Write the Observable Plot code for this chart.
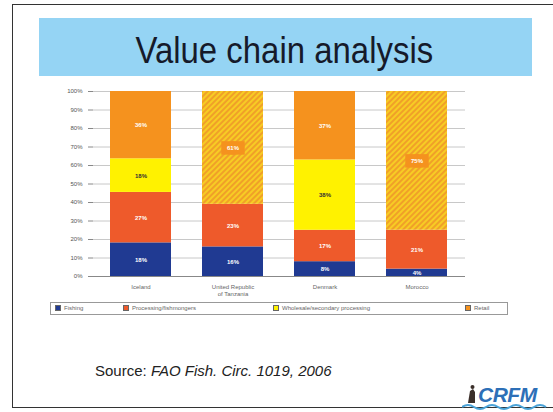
<!DOCTYPE html>
<html><head><meta charset="utf-8">
<script src="https://cdn.jsdelivr.net/npm/d3@7"></script>
<script src="https://cdn.jsdelivr.net/npm/@observablehq/plot@0.6"></script>
<style>
body{margin:0;width:553px;height:412px;overflow:hidden;background:#fff;font-family:"Liberation Sans",Arial,sans-serif;}
#wrap{position:relative;width:553px;height:412px;}
#frame{position:absolute;left:12px;top:4px;width:600px;height:404px;border:1.5px solid #333;box-sizing:border-box;}
#titlebox{position:absolute;left:39px;top:18px;width:493px;height:58px;background:#95d4f4;}
#title{position:absolute;left:8px;width:553px;top:31.5px;font-size:37px;line-height:1;text-align:center;color:#151a2a;white-space:nowrap;}
#title span{display:inline-block;transform:scaleX(0.89);transform-origin:center;}
#chart{position:absolute;left:40px;top:85px;}
#legend{position:absolute;left:50px;top:302px;width:458px;height:13px;border:1px solid #999;box-sizing:border-box;font-size:6px;color:#666;}
.li{position:absolute;top:2px;line-height:7px;white-space:nowrap;}
.sw{display:inline-block;width:6px;height:6px;border:0.5px solid #666;vertical-align:top;margin-right:3px;box-sizing:border-box;}
#source{position:absolute;left:95px;top:363px;font-size:15px;line-height:1;color:#222;white-space:nowrap;}
#logo{position:absolute;left:478px;top:384px;font-size:21px;line-height:1;font-weight:bold;font-style:italic;color:#2d6fb7;letter-spacing:-0.5px;}
#logoart{position:absolute;left:462px;top:383px;}
</style></head>
<body>
<svg width="0" height="0" style="position:absolute">
<defs>
<pattern id="hatch" patternUnits="userSpaceOnUse" width="4" height="4" patternTransform="rotate(45)">
<rect width="4" height="4" fill="#f0a028"/>
<rect width="2" height="4" fill="#f7cc24"/>
</pattern>
</defs>
</svg>
<div id="wrap">
<div id="frame"></div>
<div id="titlebox"></div>
<div id="title"><span>Value chain analysis</span></div>
<div id="chart"></div>
<div id="legend"></div>
<div id="source">Source: <i>FAO Fish. Circ. 1019, 2006</i></div>
<svg id="logoart" width="90" height="28">
<path d="M6 20 L8 8 L11 6 L13 9 L13 20 Z" fill="#3b2f2a"/>
<circle cx="10.5" cy="4" r="2" fill="#3b2f2a"/>
<path d="M0 24 Q6 20 12 24 T24 24 T36 24 T48 24 T60 24 T72 24 T84 24" stroke="#4aa3d8" stroke-width="2" fill="none"/>
</svg>
<div id="logo">CRFM</div>
</div>
<script>
const countries = ["Iceland", "United Republic\nof Tanzania", "Denmark", "Morocco"];
const series = ["Fishing", "Processing/fishmongers", "Wholesale/secondary processing", "Retail"];
const fishing = [18, 16, 8, 4];
const processing = [27, 23, 17, 21];
const wholesale = [18, 0, 38, 0];
const retail = [36, 61, 37, 75];
const hatchedRetail = [false, true, false, true];
const colors = ["#203a92", "#ee5a2b", "#fff200", "#f5921e"];
const yTicks = [0, 10, 20, 30, 40, 50, 60, 70, 80, 90, 100];

const seriesValues = [fishing, processing, wholesale, retail];
const data = [];
countries.forEach((c, i) => {
  series.forEach((s, j) => {
    const v = seriesValues[j][i];
    if (v > 0) data.push({country: c, series: s, si: j, value: v, hatched: j === 3 && hatchedRetail[i]});
  });
});
const fillOf = d => d.hatched ? "url(#hatch)" : colors[d.si];
const boxFill = d => d.hatched ? "#f5921e" : "none";
const stackOpts = {x: "country", y: "value", z: "si", order: "si", offset: "normalize"};

const chart = Plot.plot({
  width: 440, height: 215,
  marginLeft: 53, marginRight: 15, marginTop: 6, marginBottom: 24,
  style: {fontFamily: "'Liberation Sans', Arial, sans-serif", background: "transparent"},
  x: {domain: countries, paddingInner: 0.333, paddingOuter: 0.1667, label: null},
  y: {domain: [0, 1], label: null},
  color: {type: "identity"},
  marks: [
    Plot.gridY(yTicks.map(t => t / 100), {stroke: "#c8c8c8", strokeOpacity: 1}),
    Plot.barY(data, Plot.stackY({...stackOpts, fill: fillOf})),
    Plot.dot(data, Plot.stackY({...stackOpts, symbol: "square", r: 7.6, fill: boxFill, dx: -5})),
    Plot.dot(data, Plot.stackY({...stackOpts, symbol: "square", r: 7.6, fill: boxFill, dx: 5})),
    Plot.text(data, Plot.stackY({...stackOpts,
      text: d => d.value + "%",
      fill: d => d.si === 2 ? "#333" : "#fff",
      fontSize: 6, fontWeight: "bold"})),
    Plot.ruleY([0], {stroke: "#888"}),
    Plot.axisY(yTicks.map(t => t / 100), {tickFormat: d => Math.round(d * 100) + "%", fontSize: 6, fill: "#555", tickSize: 5, tickPadding: 6, stroke: "#888", line: true}),
    Plot.axisX({tickSize: 0, fontSize: 6, fill: "#666", tickPadding: 8, lineHeight: 1.1})
  ]
});
document.getElementById("chart").appendChild(chart);

const legendPos = [4, 72, 222, 414];
const legend = document.getElementById("legend");
series.forEach((s, j) => {
  const el = document.createElement("div");
  el.className = "li";
  el.style.left = legendPos[j] + "px";
  el.innerHTML = `<span class="sw" style="background:${colors[j]}"></span>${s}`;
  legend.appendChild(el);
});
</script>
</body></html>
